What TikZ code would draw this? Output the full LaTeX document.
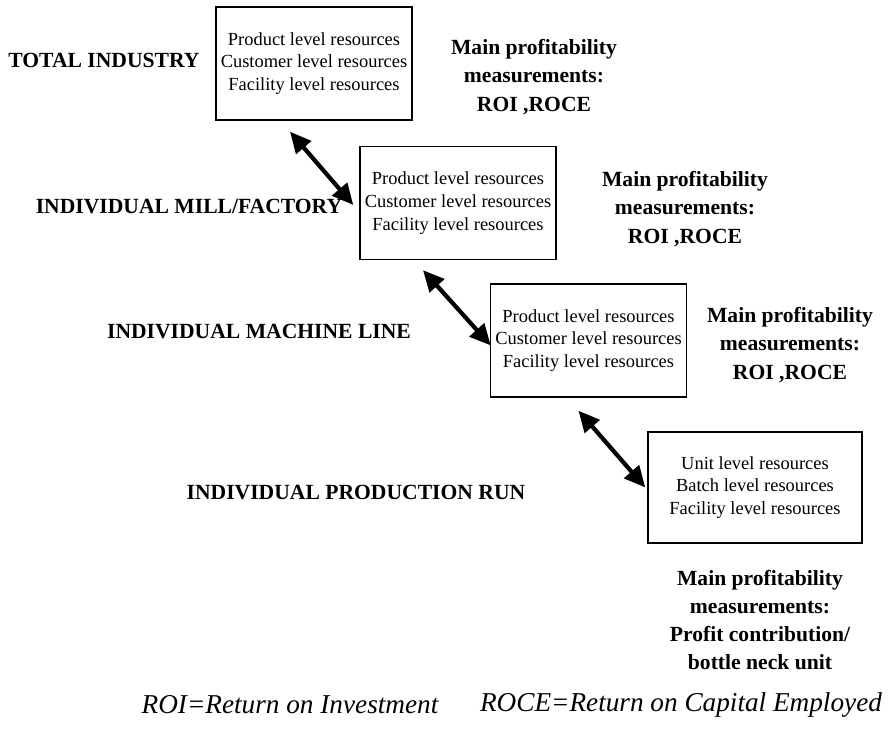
\documentclass[tikz,border=0pt]{standalone}
\usepackage{fontspec}
\setmainfont{Liberation Serif}
\usetikzlibrary{arrows.meta}

\begin{document}
\begin{tikzpicture}[x=0.02cm,y=-0.02cm]
    \tikzstyle{resource box}=[draw=black,line width=0.8pt,align=center,inner sep=0pt,
        font=\fontsize{10.5}{13}\selectfont]
    \tikzstyle{level}=[font=\fontsize{12.3}{14}\selectfont\bfseries]
    \tikzstyle{measure}=[align=center,font=\fontsize{12.3}{16}\selectfont\bfseries]
    \tikzstyle{link}=[line width=2.4pt,{Triangle[length=12pt,width=11pt]}-{Triangle[length=12pt,width=11pt]}]
    \tikzstyle{legend}=[font=\fontsize{15.5}{18}\selectfont\itshape]

    \useasboundingbox (0,0) rectangle (890,729);

    % Draw the resource boxes of the upper three levels
    \foreach \name / \x / \y in {1/314/63.5,2/458/203,3/588.5/340.5}
        \node[resource box,minimum width=196*0.02cm,minimum height=113*0.02cm]
            (R-\name) at (\x,\y)
            {Product level resources\\Customer level resources\\Facility level resources};

    % The production run box
    \node[resource box,minimum width=214*0.02cm,minimum height=111*0.02cm]
        (R-4) at (755,487.5)
        {Unit level resources\\Batch level resources\\Facility level resources};

    % Level names on the left
    \node[level] (L-1) at (104,60) {TOTAL INDUSTRY};
    \node[level] (L-2) at (189,207) {INDIVIDUAL MILL/FACTORY};
    \node[level] (L-3) at (259,332) {INDIVIDUAL MACHINE LINE};
    \node[level] (L-4) at (356,493) {INDIVIDUAL PRODUCTION RUN};

    % Profitability measurements
    \foreach \name / \x / \y in {1/534/77,2/685/209,3/790/345}
        \node[measure] (M-\name) at (\x,\y)
            {Main profitability\\measurements:\\ROI ,ROCE};
    \node[measure] (M-4) at (760,620)
        {Main profitability\\measurements:\\Profit contribution/\\bottle neck unit};

    % Connect each level with the next one
    \draw[link] ([shift={(-24,11)}]R-1.south) -- ([shift={(-6,2)}]R-2.west);
    \draw[link] ([shift={(-35,10)}]R-2.south) -- ([shift={(1,5)}]R-3.west);
    \draw[link] ([shift={(-10,13)}]R-3.south) -- ([shift={(-2,0)}]R-4.west);

    % Abbreviations
    \node[legend] (F-1) at (290,705) {ROI=Return on Investment};
    \node[legend] (F-2) at (681,705) {ROCE=Return on Capital Employed};
\end{tikzpicture}
\end{document}
